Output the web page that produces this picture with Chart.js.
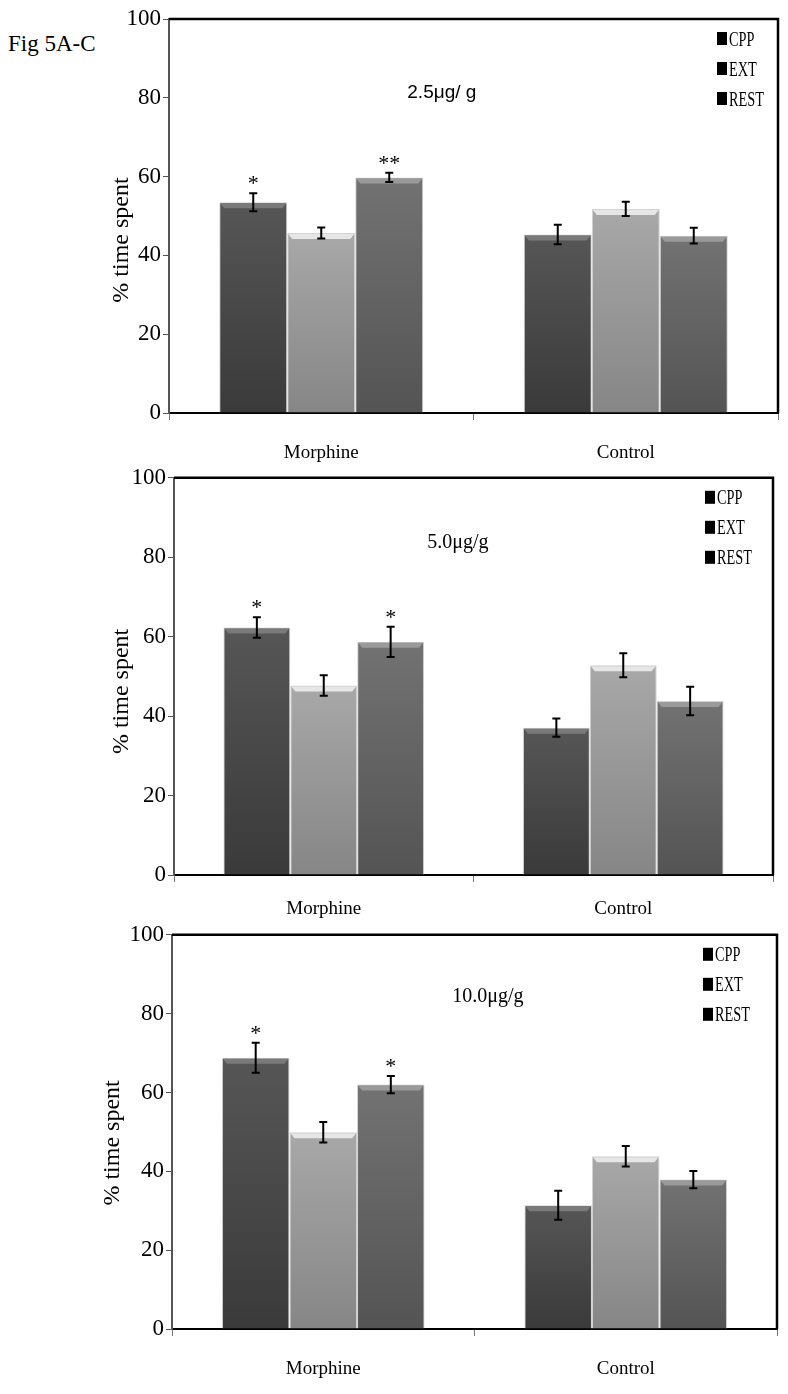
<!DOCTYPE html>
<html>
<head>
<meta charset="utf-8">
<script src="https://cdn.jsdelivr.net/npm/chart.js@4.4.0/dist/chart.umd.min.js"></script>
<style>
body { margin: 0; background: #fff; width: 788px; height: 1394px; position: relative; overflow: hidden; }
.panel { position: absolute; left: 0; width: 788px; }
#fig { position: absolute; left: 8px; top: 31px; font: 23px "Liberation Serif", "Times New Roman", serif; color: #000; }
</style>
</head>
<body>
<div id="fig">Fig 5A-C</div>
<div class="panel" style="top:0;height:462px"><canvas id="chartA"></canvas></div>
<div class="panel" style="top:462px;height:457px"><canvas id="chartB"></canvas></div>
<div class="panel" style="top:919px;height:475px"><canvas id="chartC"></canvas></div>
<script>
// datos
const groups = ["Morphine", "Control"];
const phases = ["CPP", "EXT", "REST"];
const doses = ["2.5μg/ g", "5.0μg/g", "10.0μg/g"];
const yTicks = [0, 20, 40, 60, 80, 100];

// panel A 2.5
const cppA = [53.5, 45.3];
const extA = [45.7, 51.8];
const restA = [59.8, 45.0];
const errCppA = [2.3, 2.5];
const errExtA = [1.4, 1.8];
const errRestA = [1.2, 2.0];
const starsA = [["*", ""], ["", ""], ["**", ""]];

// panel B 5.0
const cppB = [62.3, 37.1];
const extB = [47.7, 52.8];
const restB = [58.7, 43.8];
const errCppB = [2.6, 2.3];
const errExtB = [2.6, 3.0];
const errRestB = [3.8, 3.6];
const starsB = [["*", ""], ["", ""], ["*", ""]];

// panel C 10.0
const cppC = [68.8, 31.4];
const extC = [49.9, 43.8];
const restC = [62.0, 37.9];
const errCppC = [3.8, 3.7];
const errExtC = [2.6, 2.6];
const errRestC = [2.2, 2.2];
const starsC = [["*", ""], ["", ""], ["*", ""]];

const serif = '"Liberation Serif", "Times New Roman", serif';

// colores de las barras (arriba, abajo, bisel)
const tones = [
    { top: "#565656", bottom: "#3a3a3a", bevel: "#7a7a7a" },
    { top: "#a8a8a8", bottom: "#868686", bevel: "#e6e6e6" },
    { top: "#727272", bottom: "#545454", bevel: "#9a9a9a" }
];

function barFill(t) {
    return function (ctx) {
        const chart = ctx.chart;
        const area = chart.chartArea;
        if (!area || ctx.type !== "data") return t.bottom;
        const yTop = chart.scales.y.getPixelForValue(ctx.raw);
        const g = chart.ctx.createLinearGradient(0, yTop, 0, area.bottom);
        g.addColorStop(0, t.top);
        g.addColorStop(1, t.bottom);
        return g;
    };
}

const decor = {
    id: "decor",
    afterDatasetsDraw(chart, args, opts) {
        const c = chart.ctx;
        const a = chart.chartArea;
        const ys = chart.scales.y;
        c.save();

        // bisel arriba de cada barra
        chart.data.datasets.forEach((ds, di) => {
            chart.getDatasetMeta(di).data.forEach(bar => {
                const w = bar.width, x0 = bar.x - w / 2, y0 = bar.y;
                c.fillStyle = tones[di].bevel;
                c.beginPath();
                c.moveTo(x0 + 1, y0 + 1);
                c.lineTo(x0 + w - 1, y0 + 1);
                c.lineTo(x0 + w - 5, y0 + 6);
                c.lineTo(x0 + 5, y0 + 6);
                c.closePath();
                c.fill();
            });
        });

        // barras de error y asteriscos
        c.strokeStyle = "#000";
        c.lineWidth = 2;
        c.fillStyle = "#000";
        c.font = "22px " + serif;
        c.textAlign = "center";
        c.textBaseline = "alphabetic";
        chart.data.datasets.forEach((ds, di) => {
            chart.getDatasetMeta(di).data.forEach((bar, i) => {
                const v = ds.data[i], e = ds.errors[i];
                const yHi = ys.getPixelForValue(v + e);
                const yLo = ys.getPixelForValue(v - e);
                c.beginPath();
                c.moveTo(bar.x, yHi); c.lineTo(bar.x, yLo);
                c.moveTo(bar.x - 4, yHi); c.lineTo(bar.x + 4, yHi);
                c.moveTo(bar.x - 4, yLo); c.lineTo(bar.x + 4, yLo);
                c.stroke();
                if (ds.stars[i]) c.fillText(ds.stars[i], bar.x, yHi - 3);
            });
        });

        // marco arriba y derecha
        c.lineWidth = 2.5;
        c.beginPath();
        c.moveTo(a.left, a.top);
        c.lineTo(a.right, a.top);
        c.lineTo(a.right, a.bottom);
        c.stroke();

        // leyenda
        const lx = a.right + opts.legendDx;
        chart.data.datasets.forEach((ds, di) => {
            const ly = a.top + opts.legendDy + di * 30;
            c.fillStyle = "#000";
            c.fillRect(lx, ly - 7, 10, 13);
            c.save();
            c.translate(lx + 12, ly);
            c.scale(0.68, 1);
            c.font = "21px " + serif;
            c.textAlign = "left";
            c.textBaseline = "middle";
            c.fillText(ds.label, 0, 1);
            c.restore();
        });

        // dosis
        c.save();
        c.translate(a.left + (a.right - a.left) * opts.doseFx, a.top + opts.doseDy);
        c.font = opts.doseFont;
        c.textAlign = "center";
        c.textBaseline = "middle";
        c.fillText(opts.dose, 0, 0);
        c.restore();

        // titulo eje y
        c.save();
        c.translate(a.left + opts.titleDx, (a.top + a.bottom) / 2 + opts.titleDy);
        c.rotate(-Math.PI / 2);
        c.font = "24px " + serif;
        c.textAlign = "center";
        c.textBaseline = "middle";
        c.fillText(opts.title, 0, 0);
        c.restore();

        c.restore();
    }
};

function makePanel(id, sets, look) {
    const datasets = phases.map((p, k) => ({
        label: p,
        data: sets[k][0],
        errors: sets[k][1],
        stars: sets[k][2],
        backgroundColor: barFill(tones[k]),
        borderColor: "rgba(205,205,205,0.9)",
        borderWidth: 1,
        barPercentage: 1.0,
        categoryPercentage: 0.67
    }));

    return new Chart(document.getElementById(id), {
        type: "bar",
        data: { labels: groups, datasets: datasets },
        plugins: [decor],
        options: {
            responsive: true,
            maintainAspectRatio: false,
            animation: false,
            layout: { padding: { top: look.padTop, right: look.padRight, left: 0, bottom: 0 } },
            scales: {
                x: {
                    afterFit: s => { s.height = look.xHeight; },
                    grid: { drawOnChartArea: false, drawTicks: true, tickLength: 7, color: "#777" },
                    border: { color: "#000", width: 2 },
                    ticks: { color: "#000", font: { family: serif, size: 19 }, padding: look.labelPad }
                },
                y: {
                    min: 0,
                    max: 100,
                    afterFit: s => { s.width = look.yWidth; },
                    afterBuildTicks: s => { s.ticks = yTicks.map(v => ({ value: v })); },
                    grid: { drawOnChartArea: false, drawTicks: true, tickLength: 6, color: "#555" },
                    border: { color: "#555", width: 2 },
                    ticks: { color: "#000", font: { family: serif, size: 23 }, padding: 2 }
                }
            },
            plugins: {
                legend: { display: false },
                tooltip: { enabled: false },
                decor: {
                    legendDx: look.legendDx,
                    legendDy: 20,
                    dose: look.dose,
                    doseFont: look.doseFont,
                    doseFx: look.doseFx,
                    doseDy: look.doseDy,
                    title: "% time spent",
                    titleDx: look.titleDx,
                    titleDy: look.titleDy
                }
            }
        }
    });
}

makePanel("chartA",
    [[cppA, errCppA, starsA[0]], [extA, errExtA, starsA[1]], [restA, errRestA, starsA[2]]],
    { padTop: 19, padRight: 10, xHeight: 49, yWidth: 169, labelPad: 22, legendDx: -61,
      dose: doses[0], doseFont: '19px "Liberation Sans Narrow", "Liberation Sans", sans-serif',
      doseFx: 0.448, doseDy: 74, titleDx: -47, titleDy: 24 });

makePanel("chartB",
    [[cppB, errCppB, starsB[0]], [extB, errExtB, starsB[1]], [restB, errRestB, starsB[2]]],
    { padTop: 13, padRight: 15, xHeight: 44, yWidth: 174, labelPad: 16, legendDx: -68,
      dose: doses[1], doseFont: "20px " + serif,
      doseFx: 0.474, doseDy: 65, titleDx: -52, titleDy: 15 });

makePanel("chartC",
    [[cppC, errCppC, starsC[0]], [extC, errExtC, starsC[1]], [restC, errRestC, starsC[2]]],
    { padTop: 10, padRight: 11, xHeight: 65, yWidth: 172, labelPad: 22, legendDx: -74,
      dose: doses[2], doseFont: "20px " + serif,
      doseFx: 0.522, doseDy: 62, titleDx: -59, titleDy: 11 });
</script>
</body>
</html>
